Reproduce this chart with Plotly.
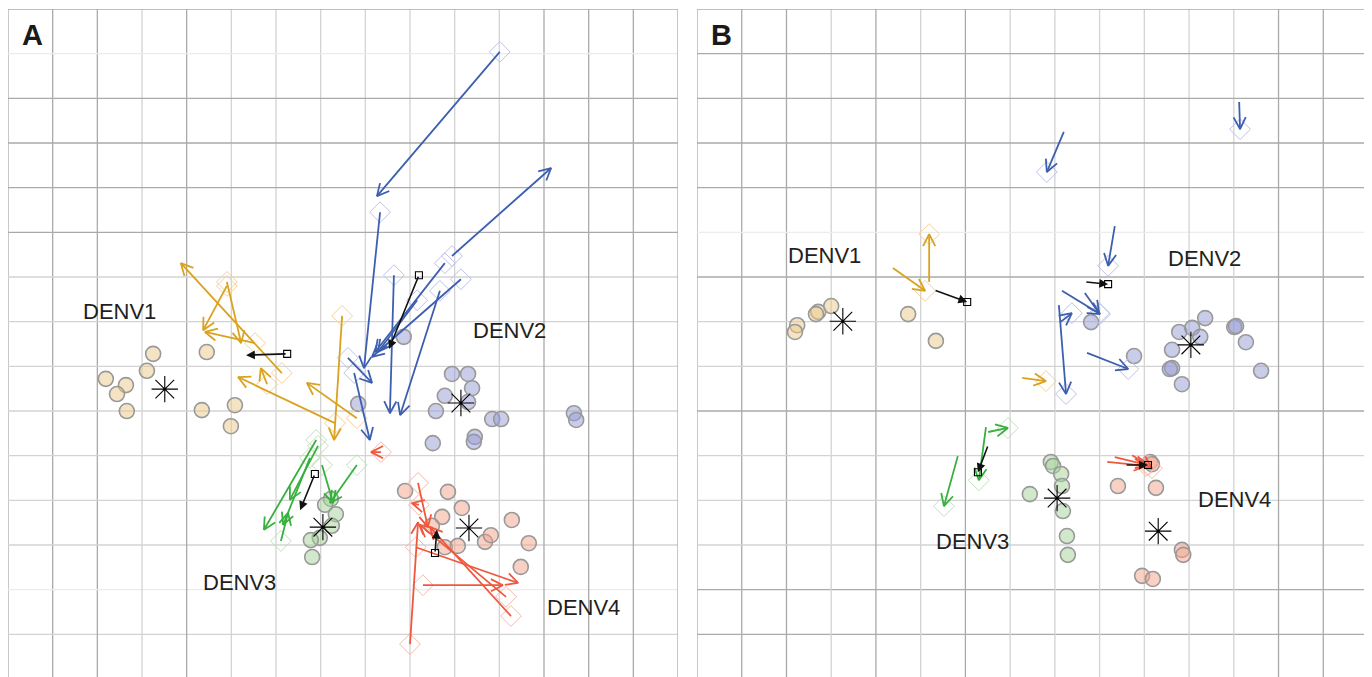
import math
import plotly.graph_objects as go

# ---------------- data (antigenic units, 1 grid cell = 1 unit) ----------------
SEROTYPES = ["DENV1", "DENV2", "DENV3", "DENV4"]

# Panel A: strain positions
A_DENV1_strains = [(3.25, 7.28), (4.45, 7.32), (3.11, 6.90), (2.19, 6.72), (2.64, 6.58),
                   (2.44, 6.38), (2.66, 6.00), (4.34, 6.02), (5.08, 6.13), (4.99, 5.66)]
A_DENV2_strains = [(9.94, 6.83), (10.30, 6.83), (10.39, 6.51), (9.78, 6.34), (10.30, 6.20),
                   (9.58, 6.00), (10.84, 5.82), (11.04, 5.82), (12.67, 5.95), (12.72, 5.80),
                   (10.45, 5.42), (10.43, 5.31), (9.51, 5.28), (7.84, 6.16), (8.86, 7.66)]
A_DENV3_strains = [(7.23, 4.03), (7.10, 3.90), (7.34, 3.69), (7.25, 3.43), (6.98, 3.16),
                   (6.78, 3.11), (6.81, 2.73)]
A_DENV4_strains = [(8.89, 4.21), (9.85, 4.19), (10.16, 3.83), (9.72, 3.63), (9.49, 3.43),
                   (9.78, 2.95), (10.07, 2.98), (10.68, 3.07), (10.81, 3.22), (11.28, 3.56),
                   (11.66, 3.04), (11.48, 2.51)]
A_centroids = [(3.51, 6.49), (10.14, 6.18), (7.05, 3.40), (10.32, 3.38)]

# Panel A: serum arrows (tail x, tail y, head x, head y); serum diamond at tail
A_DENV1_arrows = [(6.13, 6.85, 3.87, 9.31), (4.90, 8.80, 4.37, 7.81), (4.90, 8.89, 5.22, 7.52),
                  (5.53, 7.52, 4.41, 7.77), (5.80, 6.60, 5.66, 6.96), (7.32, 5.73, 5.15, 6.76),
                  (7.48, 8.13, 7.30, 5.35), (7.81, 5.84, 6.69, 6.63)]
A_DENV2_arrows = [(11.01, 14.04, 8.26, 10.81), (9.94, 9.47, 12.16, 11.44), (8.33, 10.45, 7.97, 6.96),
                  (8.64, 9.04, 8.55, 5.95), (9.78, 9.31, 8.22, 7.32), (10.14, 8.95, 8.15, 7.21),
                  (9.67, 8.69, 8.78, 5.91), (9.16, 8.48, 8.28, 7.32), (7.61, 7.19, 8.15, 6.63),
                  (7.75, 6.85, 8.10, 5.35)]
A_DENV3_arrows = [(6.90, 5.35, 5.73, 3.34), (6.76, 4.95, 6.16, 3.45), (7.81, 4.79, 7.21, 3.94),
                  (7.03, 4.79, 7.28, 3.94), (6.94, 5.22, 6.31, 4.01), (6.11, 3.09, 6.27, 3.72)]
A_DENV4_arrows = [(9.00, 0.78, 9.18, 3.51), (9.29, 2.10, 11.08, 2.10), (9.13, 2.95, 11.42, 2.15),
                  (11.15, 1.84, 9.22, 3.45), (11.26, 1.41, 9.45, 3.40), (9.18, 4.39, 9.40, 3.40),
                  (9.20, 3.90, 9.04, 3.94), (8.35, 5.08, 8.13, 5.08)]
A_mean_arrows = [(6.25, 7.28, 5.33, 7.25), (9.20, 9.04, 8.53, 7.39),
                 (6.87, 4.59, 6.54, 3.78), (9.56, 2.82, 9.60, 3.34)]
A_label_pos = [(2.50, 8.22), (11.22, 7.81), (5.18, 2.15), (12.88, 1.61)]

# Panel B
B_DENV1_strains = [(2.24, 7.92), (2.19, 7.77), (2.71, 8.22), (2.66, 8.17), (3.00, 8.35),
                   (4.72, 8.17), (5.34, 7.57)]
B_DENV2_strains = [(8.81, 7.99), (9.77, 7.23), (10.78, 7.77), (11.07, 7.86), (11.36, 8.08),
                   (11.25, 7.66), (10.62, 7.37), (10.62, 6.96), (10.57, 6.94), (10.84, 6.60),
                   (12.01, 7.88), (12.05, 7.90), (12.27, 7.54), (12.61, 6.90)]
B_DENV3_strains = [(7.91, 4.86), (7.96, 4.77), (8.14, 4.59), (8.16, 4.32), (7.44, 4.14),
                   (8.18, 3.76), (8.27, 3.20), (8.29, 2.78)]
B_DENV4_strains = [(10.13, 4.86), (10.17, 4.81), (9.41, 4.32), (10.26, 4.28), (10.84, 2.89),
                   (10.87, 2.78), (9.95, 2.31), (10.19, 2.24)]
B_centroids = [(3.26, 8.01), (11.04, 7.48), (8.05, 4.05), (10.31, 3.31)]

# Panel B: serum arrows (tail x, tail y, head x, head y); serum diamond at head
B_DENV1_arrows = [(4.38, 9.20, 5.10, 8.69), (5.19, 8.89, 5.19, 9.96), (7.27, 6.74, 7.80, 6.67)]
B_DENV2_arrows = [(8.20, 12.25, 7.82, 11.35), (12.12, 12.92, 12.14, 12.31), (9.34, 10.14, 9.19, 9.25),
                  (8.16, 8.69, 9.01, 8.17), (8.67, 8.64, 8.99, 8.19), (8.09, 8.37, 8.25, 6.38),
                  (8.12, 7.99, 8.38, 8.19), (8.72, 7.30, 9.64, 6.94)]
B_DENV3_arrows = [(6.51, 5.53, 6.95, 5.62), (6.46, 5.64, 6.30, 4.45), (5.83, 4.99, 5.52, 3.87)]
B_DENV4_arrows = [(9.17, 4.86, 10.04, 4.77), (9.34, 4.97, 10.08, 4.79), (9.73, 5.01, 10.17, 4.72)]
B_mean_arrows = [(5.30, 8.71, 6.04, 8.44), (8.67, 8.89, 9.19, 8.84),
                 (6.51, 5.24, 6.28, 4.63), (9.57, 4.79, 10.08, 4.79)]
B_label_pos = [(2.85, 9.49), (11.35, 9.42), (6.15, 3.07), (12.02, 4.01)]

# grid line emphasis (unit index)
A_dark_v = [0, 1, 2, 4, 12, 13, 14, 15]
A_dark_h = [15, 13, 12, 11, 10]
A_faint_h = [14, 2]
B_dark_v = [0, 1, 2, 4, 6, 13, 14, 15]
B_dark_h = [15, 14, 13, 12, 11, 9, 6, 2, 1]
B_faint_h = [10]

# ---------------- styles ----------------
FILL = {"DENV1": "rgba(236,201,138,0.5)", "DENV2": "rgba(150,156,212,0.5)",
        "DENV3": "rgba(166,210,152,0.5)", "DENV4": "rgba(243,163,137,0.5)"}
ARROW = {"DENV1": "#d9a21f", "DENV2": "#3d5fb0", "DENV3": "#38b03f", "DENV4": "#f0583e"}
DIAMOND = {"DENV1": "#f5d09a", "DENV2": "#bcc2e8", "DENV3": "#bfe2b8", "DENV4": "#f8b8a8"}
GRID_DARK, GRID_LIGHT, GRID_FAINT = "#aaaaaa", "#d3d3d3", "#ececec"
BARB_LEN, BARB_ANGLE = 0.30, math.radians(27)   # open "V" arrow heads (grid units)

# page geometry: the page body has an 8px margin, the figure starts at (8, 8)
W, H, OFF = 1364, 669, 8


def arrow_path(arrows):
    """Shaft + open V head for each (tx, ty, hx, hy) arrow, as one polyline with gaps."""
    xs, ys = [], []
    for tx, ty, hx, hy in arrows:
        ang = math.atan2(ty - hy, tx - hx)
        b1 = (hx + BARB_LEN * math.cos(ang + BARB_ANGLE), hy + BARB_LEN * math.sin(ang + BARB_ANGLE))
        b2 = (hx + BARB_LEN * math.cos(ang - BARB_ANGLE), hy + BARB_LEN * math.sin(ang - BARB_ANGLE))
        xs += [tx, hx, None, b1[0], hx, b2[0], None]
        ys += [ty, hy, None, b1[1], hy, b2[1], None]
    return xs, ys


fig = go.Figure()
annotations = []
shapes = []

panels = [
    dict(xr="x", yr="y", strains=[A_DENV1_strains, A_DENV2_strains, A_DENV3_strains, A_DENV4_strains],
         arrows=[A_DENV1_arrows, A_DENV2_arrows, A_DENV3_arrows, A_DENV4_arrows],
         cent=A_centroids, mean=A_mean_arrows, labels=A_label_pos, serum_at_head=False,
         dark_v=A_dark_v, dark_h=A_dark_h, faint_h=A_faint_h, letter="A"),
    dict(xr="x2", yr="y2", strains=[B_DENV1_strains, B_DENV2_strains, B_DENV3_strains, B_DENV4_strains],
         arrows=[B_DENV1_arrows, B_DENV2_arrows, B_DENV3_arrows, B_DENV4_arrows],
         cent=B_centroids, mean=B_mean_arrows, labels=B_label_pos, serum_at_head=True,
         dark_v=B_dark_v, dark_h=B_dark_h, faint_h=B_faint_h, letter="B"),
]

for p in panels:
    xr, yr = p["xr"], p["yr"]
    # grid
    for k in range(16):
        cv = GRID_DARK if k in p["dark_v"] else GRID_LIGHT
        shapes.append(dict(type="line", xref=xr, yref=yr, x0=k, x1=k, y0=0, y1=15,
                           line=dict(color=cv, width=1.3), layer="below"))
        ch = GRID_DARK if k in p["dark_h"] else (GRID_FAINT if k in p["faint_h"] else GRID_LIGHT)
        shapes.append(dict(type="line", xref=xr, yref=yr, x0=0, x1=15, y0=k, y1=k,
                           line=dict(color=ch, width=1.3), layer="below"))
    # strains
    for s, pts in zip(SEROTYPES, p["strains"]):
        fig.add_trace(go.Scatter(x=[q[0] for q in pts], y=[q[1] for q in pts], mode="markers",
                                 xaxis=xr, yaxis=yr, hoverinfo="skip",
                                 marker=dict(size=15, color=FILL[s], line=dict(color="#999999", width=1.6))))
    # centroids
    fig.add_trace(go.Scatter(x=[q[0] for q in p["cent"]], y=[q[1] for q in p["cent"]], mode="markers",
                             xaxis=xr, yaxis=yr, hoverinfo="skip",
                             marker=dict(symbol="asterisk-open", size=22, color="black",
                                         line=dict(color="black", width=1.1))))
    # sera diamonds + arrows
    for s, arr in zip(SEROTYPES, p["arrows"]):
        if p["serum_at_head"]:
            dx, dy = [a[2] for a in arr], [a[3] for a in arr]
        else:
            dx, dy = [a[0] for a in arr], [a[1] for a in arr]
        fig.add_trace(go.Scatter(x=dx, y=dy, mode="markers", xaxis=xr, yaxis=yr, hoverinfo="skip",
                                 marker=dict(symbol="diamond-open", size=16, color=DIAMOND[s],
                                             line=dict(width=1.0))))
    for s, arr in zip(SEROTYPES, p["arrows"]):
        ax_, ay_ = arrow_path(arr)
        fig.add_trace(go.Scatter(x=ax_, y=ay_, mode="lines", xaxis=xr, yaxis=yr, hoverinfo="skip",
                                 line=dict(color=ARROW[s], width=1.8), connectgaps=False))
    # mean shift (black)
    m = p["mean"]
    if p["serum_at_head"]:
        sx, sy = [a[2] for a in m], [a[3] for a in m]
    else:
        sx, sy = [a[0] for a in m], [a[1] for a in m]
    fig.add_trace(go.Scatter(x=sx, y=sy, mode="markers", xaxis=xr, yaxis=yr, hoverinfo="skip",
                             marker=dict(symbol="square-open", size=7, color="black",
                                         line=dict(width=1.1))))
    for a in m:
        annotations.append(dict(x=a[2], y=a[3], ax=a[0], ay=a[1], xref=xr, yref=yr,
                                axref=xr, ayref=yr, text="", showarrow=True, arrowhead=2,
                                arrowsize=1.1, arrowwidth=1.6, arrowcolor="#111111", standoff=0))
    # labels
    for s, (lx, ly) in zip(SEROTYPES, p["labels"]):
        annotations.append(dict(x=lx, y=ly, xref=xr, yref=yr, text=s, showarrow=False,
                                font=dict(family="Liberation Sans, Arial, sans-serif", size=22,
                                          color="#231f20"),
                                xanchor="center", yanchor="middle"))
    annotations.append(dict(x=0.54, y=14.42, xref=xr, yref=yr, text="<b>" + p["letter"] + "</b>",
                            showarrow=False, xanchor="center", yanchor="middle",
                            font=dict(family="Liberation Sans Narrow, Liberation Sans, Arial", size=29,
                                      color="#1a1a1a")))

ax_common = dict(range=[0, 15], showgrid=False, zeroline=False, showticklabels=False,
                 ticks="", showline=False, fixedrange=True)
y_top = 1 - (9 - OFF) / H
fig.update_layout(
    width=W, height=H, margin=dict(l=0, r=0, t=0, b=0),
    paper_bgcolor="white", plot_bgcolor="white", showlegend=False,
    xaxis=dict(domain=[(8 - OFF) / W, (678 - OFF) / W], anchor="y", **ax_common),
    yaxis=dict(domain=[0, y_top], anchor="x", **{**ax_common, "range": [0.045, 15]}),
    xaxis2=dict(domain=[(697 - OFF) / W, (1368 - OFF) / W], anchor="y2", **ax_common),
    yaxis2=dict(domain=[0, y_top], anchor="x2", **{**ax_common, "range": [0.045, 15]}),
    shapes=shapes, annotations=annotations,
)

fig.write_html("out.html")
